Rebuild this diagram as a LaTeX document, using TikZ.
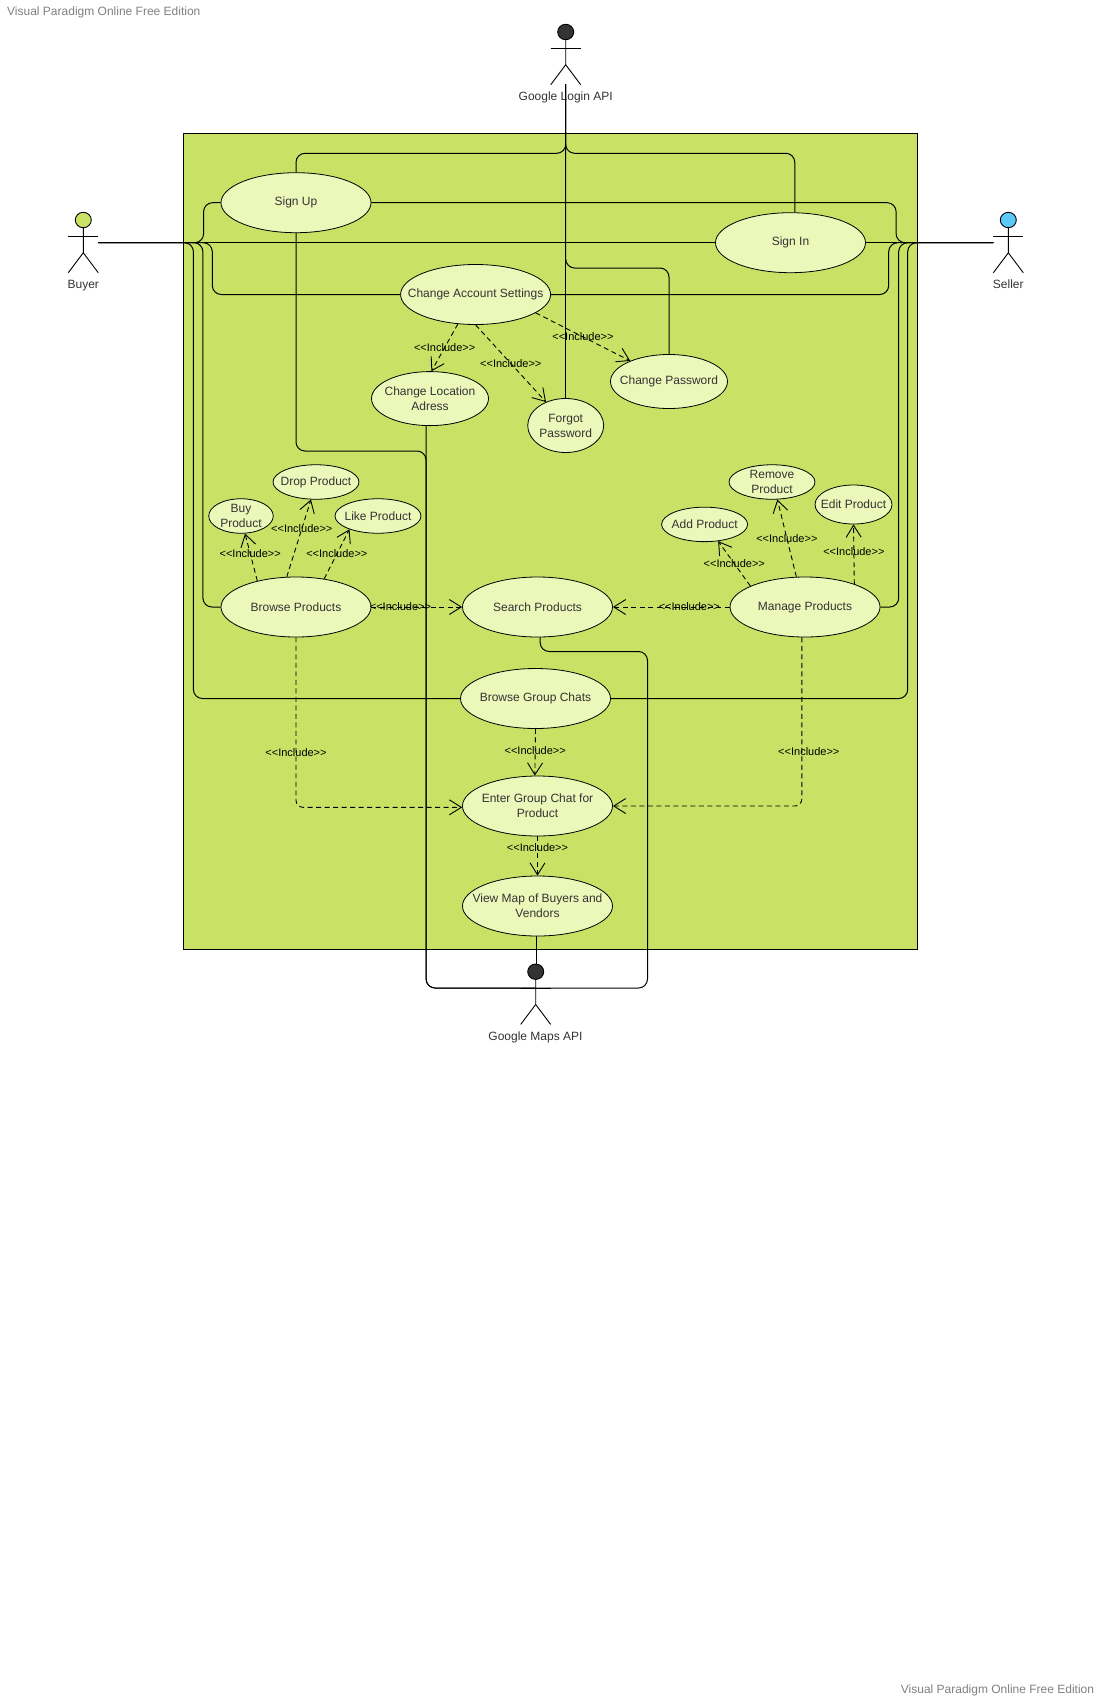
\documentclass[tikz,border=0pt]{standalone}
\usepackage{fontspec}
\setmainfont{Liberation Sans}
\usetikzlibrary{arrows.meta, shapes.geometric}

\definecolor{boxgreen}{HTML}{C9E265}
\definecolor{casefill}{HTML}{ECF7BA}
\definecolor{seatblue}{HTML}{5BC8F5}
\definecolor{inkgray}{HTML}{333333}

\newcommand{\actorbody}[1]{
  \draw[stick] (#1.south) -- ++(0,24.6) -- ++(-15,20) ++(15,-20) -- ++(15,20);
  \draw[stick] (#1.south) ++(-15,8.3) -- ++(30,0);
}

\begin{document}
\begin{tikzpicture}[x=1pt, y=-1pt, >={Straight Barb[length=12pt, width=15pt]},
  usecase/.style={ellipse, draw, line width=0.8pt, fill=casefill, inner sep=-22pt, align=center, text=inkgray,
    font=\fontsize{12}{15}\selectfont, minimum width=150pt, minimum height=60pt},
  smallcase/.style={usecase, minimum width=86pt, minimum height=34.5pt},
  midcase/.style={usecase, minimum width=117pt, minimum height=54pt},
  actorhead/.style={ellipse, draw, line width=0.9pt, inner sep=0pt, minimum width=16pt, minimum height=15.4pt},
  actorname/.style={text=inkgray, font=\fontsize{12}{15}\selectfont, text height=9pt, text depth=3pt, inner sep=0pt},
  stick/.style={line width=0.9pt},
  assoc/.style={line width=1pt, rounded corners=9pt},
  incl/.style={->, dashed, line width=0.9pt, dash pattern=on 5pt off 3.5pt},
  incname/.style={font=\fontsize{11}{13}\selectfont, inner sep=0pt}]

  \useasboundingbox (0,0) rectangle (1100,1700);

  % System box
  \fill[boxgreen] (183.3,133.3) rectangle (917.3,949);
  \draw[line width=0.8pt] (183.3,133.3) rectangle (917.3,949);

  % Watermarks
  \node[text=gray, font=\fontsize{12}{15}\selectfont, anchor=west, inner sep=0pt] (marktop) at (7,12) {Visual Paradigm Online Free Edition};
  \node[text=gray, font=\fontsize{12}{15}\selectfont, anchor=east, inner sep=0pt] (markbottom) at (1094.3,1690) {Visual Paradigm Online Free Edition};

  % Use cases
  \node[usecase] (signup) at (296,202.7) {Sign Up};
  \node[usecase] (signin) at (790.5,242.7) {Sign In};
  \node[usecase] (account) at (475.6,294.5) {Change Account Settings};
  \node[midcase] (location) at (430,398.6) {Change Location\\Adress};
  \node[midcase, minimum width=76pt] (forgot) at (565.7,425.5) {Forgot\\Password};
  \node[midcase] (password) at (669,381.5) {Change Password};
  \node[smallcase] (drop) at (316,482) {Drop Product};
  \node[smallcase, minimum width=64.5pt] (buy) at (241,516) {Buy\\Product};
  \node[smallcase] (like) at (378,516) {Like Product};
  \node[usecase] (browse) at (296,607) {Browse Products};
  \node[usecase] (search) at (537.5,607) {Search Products};
  \node[usecase] (manage) at (805,607) {Manage Products};
  \node[smallcase] (remove) at (772,482) {Remove\\Product};
  \node[smallcase, minimum width=77pt, minimum height=39pt] (edit) at (853.5,504.5) {Edit Product};
  \node[smallcase] (add) at (704.6,524.4) {Add Product};
  \node[usecase] (chats) at (535.5,698.5) {Browse Group Chats};
  \node[usecase] (enter) at (537.5,806) {Enter Group Chat for\\Product};
  \node[usecase] (view) at (537.5,906) {View Map of Buyers and\\Vendors};

  % Actors
  \node[actorhead, fill=boxgreen] (buyer) at (83.3,220) {};
  \node[actorhead, fill=seatblue] (seller) at (1008.3,220) {};
  \node[actorhead, fill=inkgray] (login) at (565.7,32) {};
  \node[actorhead, fill=inkgray] (maps) at (535.7,971.7) {};
  \actorbody{buyer}
  \actorbody{seller}
  \actorbody{login}
  \actorbody{maps}
  \node[actorname] (buyername) at (83.3,285.5) {Buyer};
  \node[actorname] (sellername) at (1008.3,285.5) {Seller};
  \node[actorname] (loginname) at (565.7,97.5) {Google Login API};
  \node[actorname] (mapsname) at (535.5,1037.5) {Google Maps API};

  % Free ends and bends
  \coordinate (buyerend) at (98.3,242.7);
  \coordinate (sellerend) at (993.3,242.7);
  \coordinate (loginend) at (565.7,84);
  \coordinate (logintop) at (565.7,153.3);
  \coordinate (loginpass) at (565.7,268);
  \coordinate (mapshub) at (536,988);
  \coordinate (signupturn) at (426,451);
  \coordinate (searchturn) at (647.5,651.5);

  % Buyer associations
  \draw[assoc] (buyerend) -- (signin.west);
  \draw[assoc] (buyerend) -| ([xshift=-17pt]signup.west) -- (signup.west);
  \draw[assoc] (buyerend) -| ([xshift=-187.9pt]account.west) -- (account.west);
  \draw[assoc] (buyerend) -| ([xshift=-17.7pt]browse.west) -- (browse.west);
  \draw[assoc] (buyerend) -| ([xshift=-266.7pt]chats.west) -- (chats.west);

  % Seller associations
  \draw[assoc] (sellerend) -- (signin.east);
  \draw[assoc] (sellerend) -| ([xshift=524.7pt]signup.east) -- (signup.east);
  \draw[assoc] (sellerend) -| ([xshift=337.7pt]account.east) -- (account.east);
  \draw[assoc] (sellerend) -| ([xshift=18.3pt]manage.east) -- (manage.east);
  \draw[assoc] (sellerend) -| ([xshift=296.8pt]chats.east) -- (chats.east);

  % Google Login API
  \draw[assoc] (loginend) -- (logintop) -| (signup.north);
  \draw[assoc] (loginend) -- (logintop) -| (signin.82);
  \draw[assoc] (loginend) -- (forgot.north);
  \draw[assoc] (loginend) -- (loginpass) -| (password.north);

  % Google Maps API
  \draw[assoc] (view.268.5) -- (view.268.5 |- maps.north);
  \draw[assoc] (signup.south) |- (signupturn) |- (mapshub);
  \draw[assoc] (location.262) |- (mapshub);
  \draw[assoc] (search.275) |- (searchturn) |- (mapshub);

  % Includes
  \draw[incl] (account.239) -- node[incname] {<{}<Include>{}>} (location.87);
  \draw[incl] (account.south) -- node[incname] {<{}<Include>{}>} (forgot.130);
  \draw[incl] (account.343) -- node[incname] {<{}<Include>{}>} (password.152);
  \draw[incl] (browse.146) -- node[incname, pos=.58] {<{}<Include>{}>} (buy.283);
  \draw[incl] (browse.107) -- node[incname, pos=.62] {<{}<Include>{}>} (drop.254);
  \draw[incl] (browse.45) -- node[incname] {<{}<Include>{}>} (like.205);
  \draw[incl] (browse.east) -- node[incname, pos=.32] {<{}<Include>{}>} (search.west);
  \draw[incl] (manage.west) -- node[incname, pos=.345] {<{}<Include>{}>} (search.east);
  \draw[incl] (manage.159) -- node[incname] {<{}<Include>{}>} (add.309);
  \draw[incl] (manage.106) -- node[incname] {<{}<Include>{}>} (remove.287);
  \draw[incl] (manage.25) -- node[incname, pos=.55] {<{}<Include>{}>} (edit.south);
  \draw[incl, rounded corners=7pt] (browse.south) |- node[incname, pos=.34] {<{}<Include>{}>} (enter.181.5);
  \draw[incl, rounded corners=7pt] (manage.264) |- node[incname, pos=.34, xshift=7pt] {<{}<Include>{}>} (enter.east);
  \draw[incl] (chats.south) -- node[incname, pos=.46] {<{}<Include>{}>} (enter.95);
  \draw[incl] (enter.south) -- node[incname, pos=.28] {<{}<Include>{}>} (view.north);

\end{tikzpicture}
\end{document}
